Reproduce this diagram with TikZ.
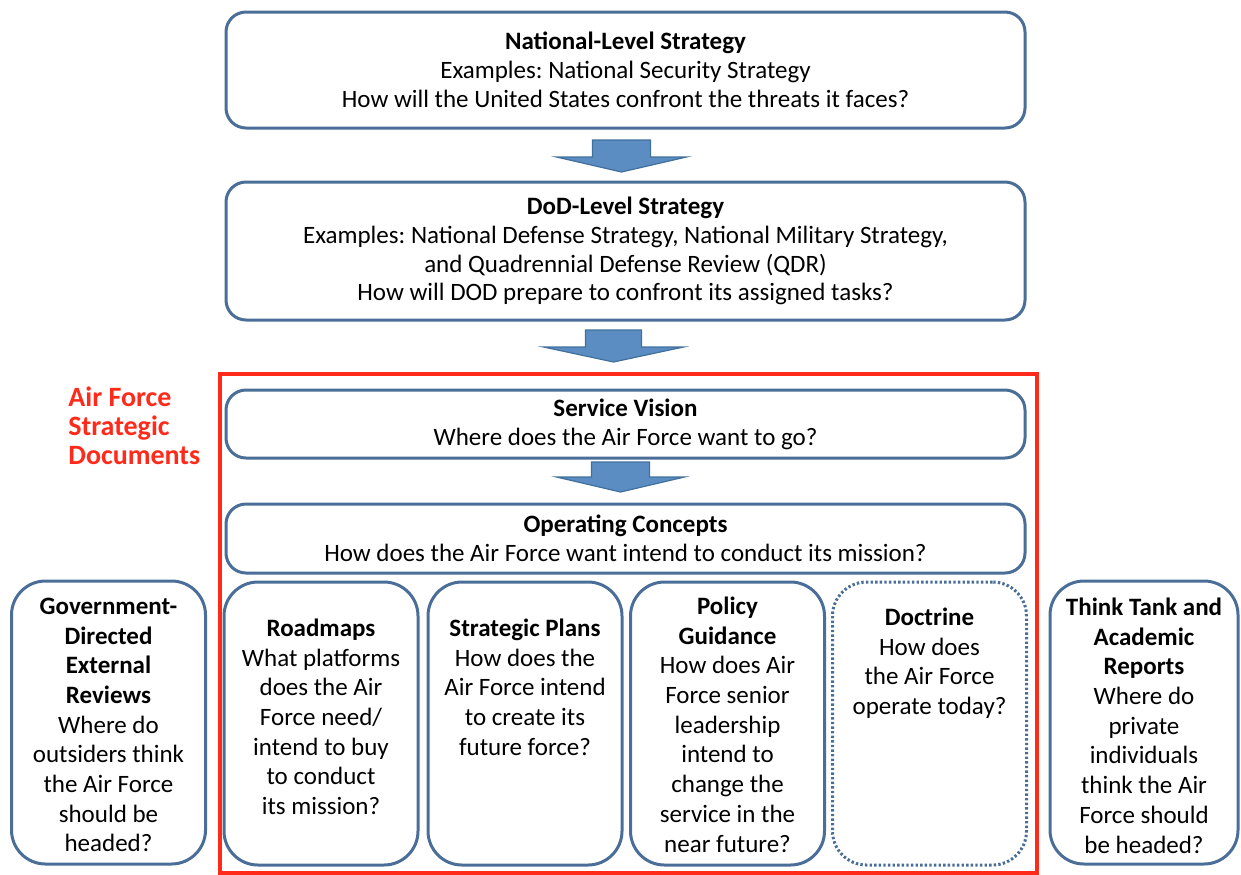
\documentclass[tikz,border=0pt]{standalone}
\usepackage{fontspec}
\setmainfont{Carlito}
\usepackage{tikz}
\usetikzlibrary{positioning,calc}
\frenchspacing

\definecolor{boxblue}{HTML}{4A6E98}
\definecolor{arrowfill}{HTML}{5B8DC3}
\definecolor{arrowline}{HTML}{41709C}
\definecolor{afred}{HTML}{FF2A1A}

\tikzset{
  box/.style={draw=boxblue, line width=1.5pt, rounded corners=10pt, fill=white,
    align=center, inner sep=0pt, minimum width=399.5pt, font=\fontsize{12.5}{14.4}\selectfont},
  tallbox/.style={draw=boxblue, line width=1.5pt, rounded corners=17pt,
    inner sep=0pt, minimum width=97pt, minimum height=141.5pt},
  txt/.style={align=center, inner sep=0pt, font=\fontsize{12.5}{14.85}\selectfont},
  blockarrow/.style={fill=arrowfill, draw=arrowline, line width=0.6pt, line join=miter}
}

\begin{document}
\begin{tikzpicture}[x=0.5pt, y=-0.5pt]
    \useasboundingbox (0,0) rectangle (1241,874);

    % Strategy boxes
    \node[box, minimum height=58pt] (nat) at (625.5,70)
      {\textbf{National-Level Strategy}\\Examples: National Security Strategy\\How will the United States confront the threats it faces?};
    \node[box, minimum height=69pt] (dod) at (625.5,251)
      {\textbf{DoD-Level Strategy}\\Examples: National Defense Strategy, National Military Strategy,\\and Quadrennial Defense Review (QDR)\\How will DOD prepare to confront its assigned tasks?};

    % Air Force frame
    \draw[afred, line width=2pt] (220,374) rectangle (1037,873);
    \node[afred, anchor=north west, align=left, inner sep=0pt,
      font=\fontsize{14}{14.5}\selectfont\bfseries] (aflabel) at (68,386)
      {Air Force\\Strategic\\Documents};

    \node[box, minimum height=34pt] (vision) at (625.5,424)
      {\textbf{Service Vision}\\Where does the Air Force want to go?};
    \node[box, minimum height=34.5pt] (opcon) at (625.5,538.5)
      {\textbf{Operating Concepts}\\How does the Air Force want intend to conduct its mission?};

    % Block arrows
    \coordinate (a1) at ($(nat.south)!.5!(dod.north)+(-4,1)$);
    \coordinate (a2) at ($(dod.south)!.5!(vision.north)+(-12,-9)$);
    \coordinate (a3) at ($(vision.south)!.5!(opcon.north)+(-5,-4)$);
    \draw[blockarrow] ([shift={(-29,-16)}]a1) -- ++(58,0) -- ++(0,17) -- ++(36,0)
      -- ([shift={(0,16)}]a1) -- ([shift={(-65,1)}]a1) -- ++(36,0) -- cycle;
    \draw[blockarrow] ([shift={(-28,-16)}]a2) -- ++(56,0) -- ++(0,17) -- ++(42,0)
      -- ([shift={(0,16)}]a2) -- ([shift={(-70,1)}]a2) -- ++(42,0) -- cycle;
    \draw[blockarrow] ([shift={(-29,-15)}]a3) -- ++(58,0) -- ++(0,15) -- ++(35,0)
      -- ([shift={(0,15)}]a3) -- ([shift={(-64,0)}]a3) -- ++(35,0) -- cycle;

    % Document boxes
    \node[tallbox] (rm) at (321,723.5) {};
    \node[tallbox] (sp) at (525,723.5) {};
    \node[tallbox] (pg) at (727.5,723.5) {};
    \node[tallbox, dash pattern=on 1.2pt off 1.1pt] (doc) at (929.5,723.5) {};
    \node[tallbox] (gov) at (108.5,722.5) {};
    \node[tallbox, minimum width=94pt] (tt) at (1144,722.5) {};

    \node[txt, below=19pt of rm.north] {\textbf{Roadmaps}\\What platforms\\does the Air\\Force need/\\intend to buy\\to conduct\\its mission?};
    \node[txt, below=19pt of sp.north] {\textbf{Strategic Plans}\\How does the\\Air Force intend\\to create its\\future force?};
    \node[txt, below=8pt of pg.north] {\textbf{Policy}\\\textbf{Guidance}\\How does Air\\Force senior\\leadership\\intend to\\change the\\service in the\\near future?};
    \node[txt, below=13.5pt of doc.north] {\textbf{Doctrine}\\How does\\the Air Force\\operate today?};
    \node[txt, below=9pt of gov.north] {\textbf{Government-}\\\textbf{Directed}\\\textbf{External}\\\textbf{Reviews}\\Where do\\outsiders think\\the Air Force\\should be\\headed?};
    \node[txt, below=9pt of tt.north] {\textbf{Think Tank and}\\\textbf{Academic}\\\textbf{Reports}\\Where do\\private\\individuals\\think the Air\\Force should\\be headed?};
\end{tikzpicture}
\end{document}
